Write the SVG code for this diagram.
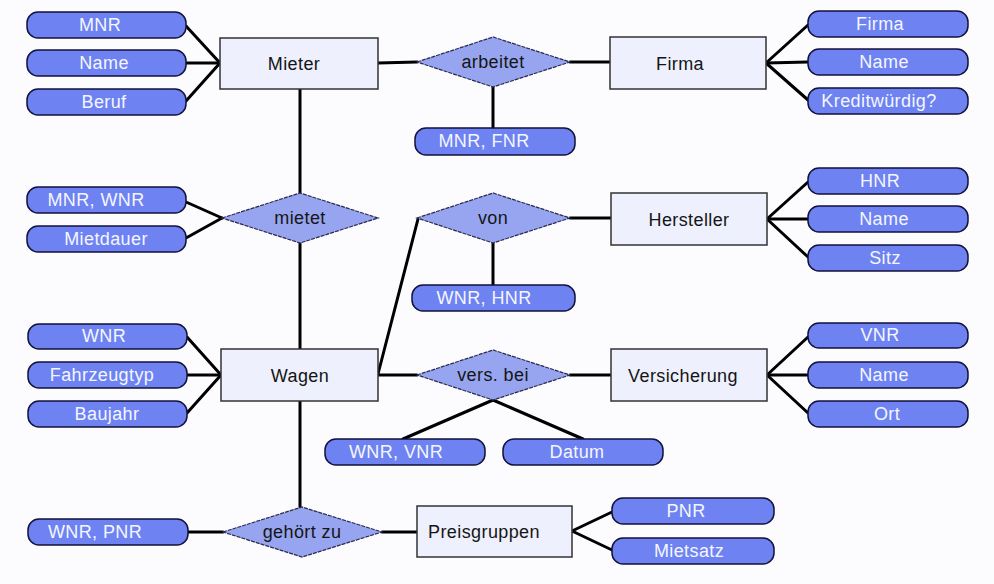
<svg xmlns="http://www.w3.org/2000/svg" width="994" height="584" viewBox="0 0 994 584">
<style>
.bg{fill:#fcfbfe}
.attr rect{fill:#6e83f1;stroke:#12123c;stroke-width:1.5}
.attr text{fill:#f4f6ff;font-family:"Liberation Sans",Arial,sans-serif;font-size:18px;letter-spacing:0.4px;text-anchor:middle}
.ent rect{fill:#eef0fd;stroke:#333333;stroke-width:1.5}
.ent text{fill:#151515;font-family:"Liberation Sans",Arial,sans-serif;font-size:18px;letter-spacing:0.4px;text-anchor:middle}
.rel polygon{fill:#97a5f0;stroke:#2a2a50;stroke-width:1.2;stroke-dasharray:4 1}
.rel text{fill:#151515;font-family:"Liberation Sans",Arial,sans-serif;font-size:18px;letter-spacing:0.4px;text-anchor:middle}
#connectors line{stroke:#000000;stroke-width:3;stroke-linecap:round}
</style>
<rect class="bg" x="0" y="0" width="994" height="584"/>
<g id="connectors">
<line x1="186" y1="26" x2="220" y2="63"/>
<line x1="186" y1="63" x2="220" y2="63"/>
<line x1="186" y1="101" x2="220" y2="63"/>
<line x1="378" y1="63" x2="417" y2="62"/>
<line x1="570" y1="62" x2="610" y2="62"/>
<line x1="493" y1="87" x2="493" y2="128"/>
<line x1="766" y1="63" x2="808" y2="25"/>
<line x1="766" y1="63" x2="808" y2="62"/>
<line x1="766" y1="63" x2="808" y2="100"/>
<line x1="300" y1="89" x2="300" y2="193"/>
<line x1="300" y1="243" x2="300" y2="349"/>
<line x1="186" y1="202" x2="222" y2="218"/>
<line x1="186" y1="238" x2="222" y2="218"/>
<line x1="378" y1="374" x2="418" y2="219"/>
<line x1="570" y1="218" x2="611" y2="218"/>
<line x1="493" y1="243" x2="493" y2="285"/>
<line x1="767" y1="219" x2="808" y2="182"/>
<line x1="767" y1="219" x2="808" y2="219"/>
<line x1="767" y1="219" x2="808" y2="257"/>
<line x1="378" y1="375" x2="417" y2="375"/>
<line x1="570" y1="375" x2="611" y2="375"/>
<line x1="493" y1="400" x2="403" y2="439"/>
<line x1="493" y1="400" x2="583" y2="439"/>
<line x1="767" y1="375" x2="808" y2="337"/>
<line x1="767" y1="375" x2="808" y2="375"/>
<line x1="767" y1="375" x2="808" y2="413"/>
<line x1="187" y1="337" x2="221" y2="375"/>
<line x1="187" y1="375" x2="221" y2="375"/>
<line x1="187" y1="413" x2="221" y2="375"/>
<line x1="300" y1="401" x2="300" y2="507"/>
<line x1="188" y1="532" x2="223" y2="532"/>
<line x1="382" y1="532" x2="417" y2="532"/>
<line x1="572" y1="531" x2="612" y2="512"/>
<line x1="572" y1="531" x2="612" y2="550"/>
</g>

<g id="mieter" class="ent"><rect x="220" y="38" width="158" height="51"/><text x="294" y="70">Mieter</text></g>
<g id="firma" class="ent"><rect x="610" y="37" width="156" height="52"/><text x="680" y="70">Firma</text></g>
<g id="hersteller" class="ent"><rect x="611" y="193" width="156" height="52"/><text x="689" y="226">Hersteller</text></g>
<g id="versicherung" class="ent"><rect x="611" y="349" width="156" height="52"/><text x="683" y="382">Versicherung</text></g>
<g id="wagen" class="ent"><rect x="221" y="349" width="157" height="52"/><text x="300" y="382">Wagen</text></g>
<g id="preisgruppen" class="ent"><rect x="417" y="506" width="155" height="51"/><text x="484" y="538">Preisgruppen</text></g>

<g id="arbeitet" class="rel"><polygon points="417,62 493,37 570,62 493,87"/><text x="493" y="68">arbeitet</text></g>
<g id="mietet" class="rel"><polygon points="222,218 300,193 378,218 300,243"/><text x="300" y="224">mietet</text></g>
<g id="von" class="rel"><polygon points="417,218 493,193 570,218 493,243"/><text x="493" y="224">von</text></g>
<g id="versbei" class="rel"><polygon points="417,375 493,350 570,375 493,400"/><text x="493" y="381">vers. bei</text></g>
<g id="gehoertzu" class="rel"><polygon points="223,532 302,507 382,532 302,557"/><text x="302" y="538">gehört zu</text></g>

<g id="a-mnr" class="attr"><rect x="27" y="12" width="159" height="26" rx="11"/><text x="100" y="31">MNR</text></g>
<g id="a-name1" class="attr"><rect x="27" y="50" width="159" height="26" rx="11"/><text x="104" y="69">Name</text></g>
<g id="a-beruf" class="attr"><rect x="27" y="89" width="159" height="26" rx="11"/><text x="104" y="108">Beruf</text></g>

<g id="a-firma" class="attr"><rect x="808" y="11" width="160" height="26" rx="11"/><text x="880" y="30">Firma</text></g>
<g id="a-name2" class="attr"><rect x="808" y="49" width="160" height="26" rx="11"/><text x="884" y="68">Name</text></g>
<g id="a-kredit" class="attr"><rect x="808" y="88" width="160" height="26" rx="11"/><text x="879" y="107">Kreditwürdig?</text></g>
<g id="a-mnrfnr" class="attr"><rect x="415" y="128" width="160" height="27" rx="11"/><text x="484" y="147">MNR, FNR</text></g>

<g id="a-mnrwnr" class="attr"><rect x="27" y="187" width="159" height="26" rx="11"/><text x="96" y="206">MNR, WNR</text></g>
<g id="a-mietdauer" class="attr"><rect x="27" y="226" width="159" height="26" rx="11"/><text x="106" y="245">Mietdauer</text></g>

<g id="a-hnr" class="attr"><rect x="808" y="168" width="160" height="26" rx="11"/><text x="880" y="187">HNR</text></g>
<g id="a-name3" class="attr"><rect x="808" y="206" width="160" height="26" rx="11"/><text x="884" y="225">Name</text></g>
<g id="a-sitz" class="attr"><rect x="808" y="245" width="160" height="26" rx="11"/><text x="885" y="264">Sitz</text></g>
<g id="a-wnrhnr" class="attr"><rect x="412" y="285" width="163" height="26" rx="11"/><text x="484" y="304">WNR, HNR</text></g>

<g id="a-wnr" class="attr"><rect x="28" y="324" width="159" height="25" rx="11"/><text x="104" y="342">WNR</text></g>
<g id="a-fahrzeugtyp" class="attr"><rect x="28" y="362" width="159" height="26" rx="11"/><text x="102" y="381">Fahrzeugtyp</text></g>
<g id="a-baujahr" class="attr"><rect x="28" y="401" width="159" height="26" rx="11"/><text x="107" y="420">Baujahr</text></g>

<g id="a-vnr" class="attr"><rect x="808" y="323" width="160" height="25" rx="11"/><text x="880" y="341">VNR</text></g>
<g id="a-name4" class="attr"><rect x="808" y="362" width="160" height="26" rx="11"/><text x="884" y="381">Name</text></g>
<g id="a-ort" class="attr"><rect x="808" y="401" width="160" height="26" rx="11"/><text x="887" y="420">Ort</text></g>

<g id="a-wnrvnr" class="attr"><rect x="325" y="439" width="160" height="26" rx="11"/><text x="396" y="458">WNR, VNR</text></g>
<g id="a-datum" class="attr"><rect x="503" y="439" width="160" height="26" rx="11"/><text x="577" y="458">Datum</text></g>

<g id="a-wnrpnr" class="attr"><rect x="28" y="519" width="160" height="26" rx="11"/><text x="95" y="538">WNR, PNR</text></g>

<g id="a-pnr" class="attr"><rect x="612" y="498" width="162" height="26" rx="11"/><text x="686" y="517">PNR</text></g>
<g id="a-mietsatz" class="attr"><rect x="612" y="538" width="162" height="26" rx="11"/><text x="689" y="557">Mietsatz</text></g>
</svg>
